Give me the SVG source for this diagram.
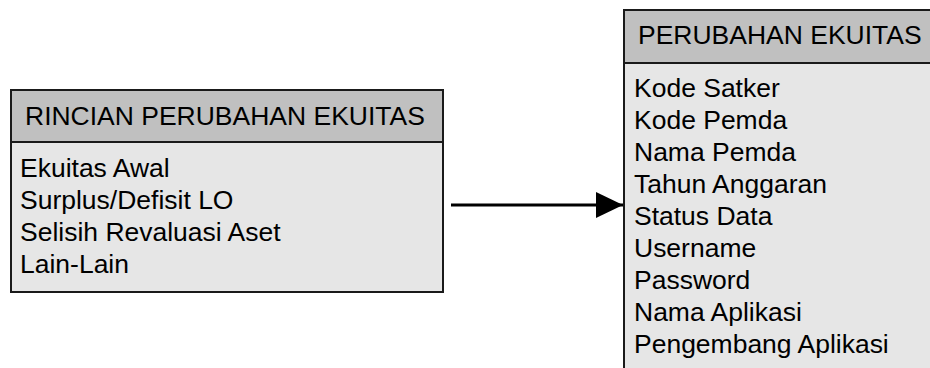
<svg xmlns="http://www.w3.org/2000/svg" width="930" height="368" viewBox="0 0 930 368">
<style>
  .hdr { fill: #c0c0c0; stroke: #1a1a1a; stroke-width: 2; }
  .body { fill: #e6e6e6; stroke: #1a1a1a; stroke-width: 2; }
  .t { font-family: "Liberation Sans", Arial, sans-serif; font-size: 25px; fill: #000; }
  .conn { stroke: #000; stroke-width: 3; fill: none; }
</style>
<defs>
  <marker id="arrow" markerUnits="userSpaceOnUse" markerWidth="28" markerHeight="28" refX="27" refY="13" orient="auto">
    <path d="M0,0 L27,13 L0,26 Z" fill="#000"/>
  </marker>
</defs>
<rect width="930" height="368" fill="#fff"/>
<g id="rincian-perubahan-ekuitas">
  <rect class="body" x="11" y="90" width="432" height="202"/>
  <rect class="hdr" x="11" y="90" width="432" height="52"/>
  <text class="t" transform="translate(25,125) scale(1.06,1)">RINCIAN PERUBAHAN EKUITAS</text>
  <text class="t" transform="translate(20,177) scale(1.06,1)">
    <tspan x="0" y="0">Ekuitas Awal</tspan>
    <tspan x="0" y="32">Surplus/Defisit LO</tspan>
    <tspan x="0" y="64">Selisih Revaluasi Aset</tspan>
    <tspan x="0" y="96">Lain-Lain</tspan>
  </text>
</g>
<g id="perubahan-ekuitas">
  <rect class="body" x="624" y="10" width="320" height="370"/>
  <rect class="hdr" x="624" y="10" width="320" height="53"/>
  <text class="t" transform="translate(638,43.5) scale(1.06,1)">PERUBAHAN EKUITAS</text>
  <text class="t" transform="translate(634,97) scale(1.06,1)">
    <tspan x="0" y="0">Kode Satker</tspan>
    <tspan x="0" y="32">Kode Pemda</tspan>
    <tspan x="0" y="64">Nama Pemda</tspan>
    <tspan x="0" y="96">Tahun Anggaran</tspan>
    <tspan x="0" y="128">Status Data</tspan>
    <tspan x="0" y="160">Username</tspan>
    <tspan x="0" y="192">Password</tspan>
    <tspan x="0" y="224">Nama Aplikasi</tspan>
    <tspan x="0" y="256">Pengembang Aplikasi</tspan>
  </text>
</g>
<g id="connectors">
  <line class="conn" x1="451" y1="205" x2="623" y2="205" marker-end="url(#arrow)"/>
</g>
</svg>
